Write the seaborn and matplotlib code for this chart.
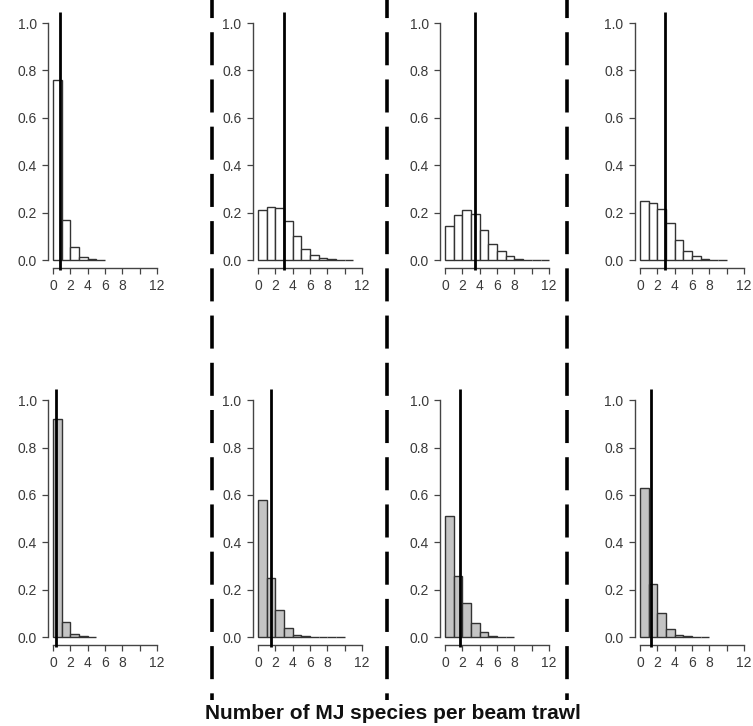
import numpy as np
import pandas as pd
import matplotlib
matplotlib.use("Agg")
import matplotlib.pyplot as plt
import seaborn as sns
from matplotlib.lines import Line2D

sns.set_style("white")
plt.rcParams['font.family'] = ['Liberation Sans', 'DejaVu Sans']

# proportions of trawls by number of MJ species (bins of width 1 from 0)
top_props = [
    [0.76, 0.17, 0.055, 0.012, 0.003, 0.001],
    [0.21, 0.225, 0.22, 0.165, 0.10, 0.045, 0.02, 0.008, 0.003, 0.001, 0.0005],
    [0.145, 0.19, 0.21, 0.195, 0.125, 0.068, 0.04, 0.018, 0.006, 0.002, 0.001, 0.0005],
    [0.25, 0.24, 0.215, 0.155, 0.085, 0.04, 0.015, 0.006, 0.002, 0.001],
]
bottom_props = [
    [0.92, 0.065, 0.012, 0.003, 0.001],
    [0.58, 0.25, 0.115, 0.04, 0.01, 0.003, 0.001, 0.0005, 0.0003, 0.0002],
    [0.51, 0.26, 0.145, 0.06, 0.02, 0.005, 0.002, 0.001],
    [0.63, 0.225, 0.10, 0.035, 0.01, 0.003, 0.001, 0.0005],
]
top_means = [0.85, 3.0, 3.5, 2.83]
bottom_means = [0.35, 1.46, 1.76, 1.28]

xticks = [0, 2, 4, 6, 8, 10, 12]
xticklabels = ["0", "2", "4", "6", "8", "", "12"]
yticks = [0.0, 0.2, 0.4, 0.6, 0.8, 1.0]

fig = plt.figure(figsize=(7.53, 7.26), dpi=100)

lefts = [0.0611, 0.3333, 0.5817, 0.8406]
bottoms = [0.6255, 0.106]
w, h = 0.150, 0.3624


def draw_panel(ax, props, mean, fill):
    n = len(props)
    d = pd.DataFrame({"n_species": np.arange(n) + 0.5, "prop": props})
    sns.histplot(data=d, x="n_species", weights="prop", binwidth=1,
                 binrange=(0, n), ax=ax, stat="count", color=fill,
                 edgecolor="#333333", linewidth=1.0, alpha=1.0)
    ax.vlines(mean, -0.04, 1.045, color="black", lw=2.0, zorder=5)
    ax.set_xlim(-0.8, 12.2)
    ax.set_ylim(-0.05, 1.06)
    ax.set_xlabel("")
    ax.set_ylabel("")
    for s in ["top", "right"]:
        ax.spines[s].set_visible(False)
    ax.spines["left"].set_position(("data", -0.6))
    ax.spines["left"].set_bounds(0, 1)
    ax.spines["bottom"].set_position(("data", -0.035))
    ax.spines["bottom"].set_bounds(0, 12)
    for s in ["left", "bottom"]:
        ax.spines[s].set_color("#444444")
        ax.spines[s].set_linewidth(1.0)
    ax.set_xticks(xticks)
    ax.set_xticklabels(xticklabels)
    ax.set_yticks(yticks)
    ax.set_yticklabels([f"{v:.1f}" for v in yticks])
    ax.tick_params(axis="both", direction="out", length=4, width=0.9,
                   color="#444444", labelsize=10, labelcolor="#3a3a3a",
                   bottom=True, left=True)
    ax.tick_params(axis="x", pad=3.5)
    ax.tick_params(axis="y", pad=4)
    ax.patch.set_alpha(0)


for i in range(4):
    ax = fig.add_axes([lefts[i], bottoms[0], w, h])
    draw_panel(ax, top_props[i], top_means[i], "white")
    ax = fig.add_axes([lefts[i], bottoms[1], w, h])
    draw_panel(ax, bottom_props[i], bottom_means[i], "#c4c4c4")

# dashed separators between columns
lw = 2.6
for xp in [212, 387, 567]:
    xf = xp / 753
    line = Line2D([xf, xf], [1.0, 1 - 700 / 726], transform=fig.transFigure,
                  color="black", lw=lw,
                  linestyle=(10.8 / lw, (23.8 / lw, 10.2 / lw)))
    fig.add_artist(line)

fig.text(0.522, 0.004, "Number of MJ species per beam trawl", ha="center",
         va="bottom", fontsize=15, fontweight="bold", color="#111111")

fig.savefig("out.png", dpi=100, facecolor="white")
